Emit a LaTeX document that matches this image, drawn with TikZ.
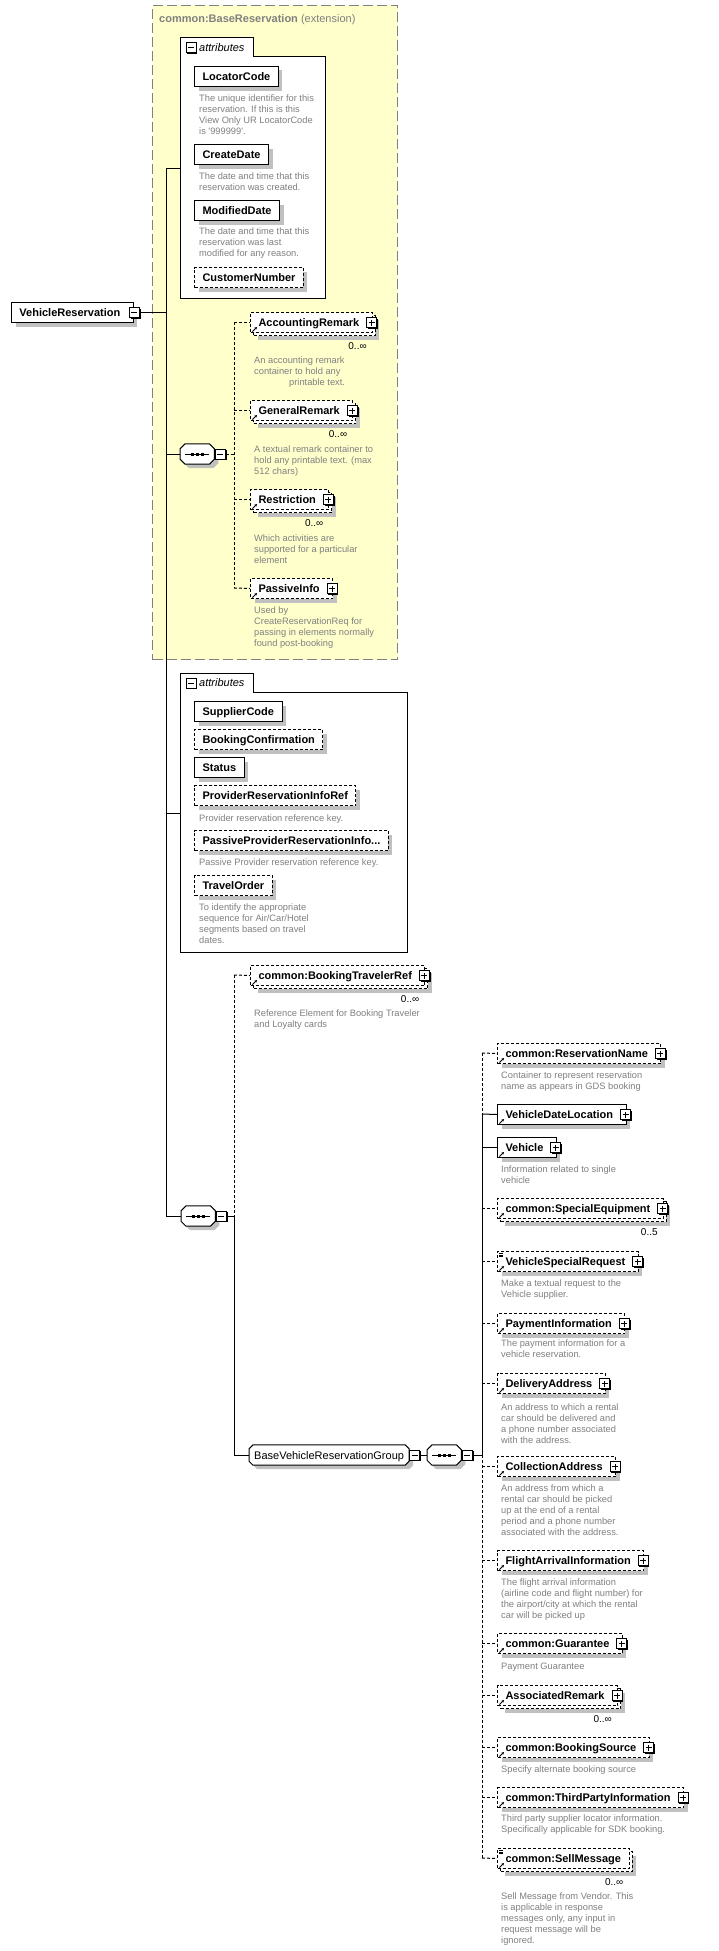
\documentclass[tikz,border=0pt]{standalone}
\usepackage{fontspec}
\setmainfont{Liberation Sans}
\usetikzlibrary{shadows,arrows.meta}
\pgfdeclarelayer{back}
\pgfdeclarelayer{bg}
\pgfsetlayers{back,bg,main}
\definecolor{ylw}{HTML}{FFFFCC}
\definecolor{dgray}{HTML}{808080}
\definecolor{shgray}{HTML}{C0C0C0}
\newcommand\octpath[2]{([shift={(#2pt,0pt)}]#1.north west) -- ([shift={(-#2pt,0pt)}]#1.north east) -- ([shift={(0pt,-#2pt)}]#1.north east) -- ([shift={(0pt,#2pt)}]#1.south east) -- ([shift={(-#2pt,0pt)}]#1.south east) -- ([shift={(#2pt,0pt)}]#1.south west) -- ([shift={(0pt,#2pt)}]#1.south west) -- ([shift={(0pt,-#2pt)}]#1.north west) -- cycle}
\newcommand\pmbox[3]{%
  \node[pm] (#1) at #2 {};
  \draw[line width=1pt] ([xshift=-3pt]#1.center) -- ([xshift=3pt]#1.center);
  \ifnum#3=1 \draw[line width=1pt] ([yshift=-3pt]#1.center) -- ([yshift=3pt]#1.center);\fi}
\newcommand\refarr[1]{\draw[line width=0.8pt,-{Stealth[length=2.6pt,width=2.6pt]}] ([shift={(2.5pt,1.5pt)}]#1.south west) -- ++(4.5pt,4.5pt);}
\newcommand\mixd[1]{\foreach \dd in {2.5,4,5.5}{\draw[line width=0.7pt] ([shift={(2pt,-\dd pt)}]#1.north west) -- ++(4pt,0pt);}}
\newcommand\seqdots[1]{\draw[line width=1pt] ([xshift=-12pt]#1.center) -- ([xshift=12pt]#1.center);
  \foreach \dx in {-5,0,5}{\fill ([shift={(\dx pt-1.5pt,-1.5pt)}]#1.center) rectangle ++(3pt,3pt);}}
\tikzset{
  shad/.style={drop shadow={shadow xshift=4pt, shadow yshift=-4pt, fill=shgray, opacity=1}},
  elem/.style={draw, fill=white, line width=1pt, anchor=north west, minimum height=20pt, inner ysep=0pt, inner xsep=8pt, text height=10pt, text depth=2pt, font=\fontsize{11}{13}\selectfont\bfseries},
  opt/.style={dash pattern=on 3pt off 2pt},
  con/.style={line width=1pt},
  desc/.style={anchor=north west, align=left, inner sep=0pt, text=dgray, font=\fontsize{9.3}{11}\selectfont, execute at begin node={\rule{0pt}{7.5pt}}},
  mult/.style={anchor=east, inner sep=0pt, font=\fontsize{10}{12}\selectfont},
  pm/.style={draw, fill=white, line width=1pt, minimum size=10pt, inner sep=0pt, drop shadow={shadow xshift=1.2pt, shadow yshift=-1.2pt, fill=black, opacity=1}},
  seqn/.style={minimum width=34pt, minimum height=20pt, inner sep=0pt, anchor=west},
  tabtxt/.style={anchor=west, inner sep=0pt, font=\fontsize{11}{13}\selectfont\itshape},
}
\begin{document}
\begin{tikzpicture}[x=1pt,y=-1pt]
\begin{pgfonlayer}{back}
\path[fill=white, use as bounding box] (0,0) rectangle (718,1951);
\node[draw=dgray, fill=ylw, line width=1pt, dash pattern=on 10pt off 4pt, anchor=north west, minimum width=245pt, minimum height=654pt, inner sep=0pt] (ext) at (152,5) {};
\end{pgfonlayer}
\node[anchor=base west, inner sep=0pt, text=dgray, font=\fontsize{11}{13}\selectfont] (extt) at (159,23) {\textbf{common:BaseReservation} (extension)};

% ---------- attributes A
\draw[fill=white, line width=1pt] (180,298) -- (180,38) -- (253,38) -- (253,57) -- (325,57) -- (325,298) -- cycle;
\pmbox{atApm}{(191,48)}{0}
\node[tabtxt] (atAt) at (199,48) {attributes};
\coordinate (atA) at (180,168);
\node[elem, shad] (locc) at (194,66) {LocatorCode};
\node[desc] (loccd) at (199,95) {The unique identifier for this\\reservation. If this is this\\View Only UR LocatorCode\\is \textquotesingle 999999\textquotesingle.};
\node[elem, shad] (crd) at (194,144) {CreateDate};
\node[desc] (crdd) at (199,173) {The date and time that this\\reservation was created.};
\node[elem, shad] (mdd) at (194,200) {ModifiedDate};
\node[desc] (mddd) at (199,228) {The date and time that this\\reservation was last\\modified for any reason.};
\node[elem, shad, opt] (cun) at (194,267) {CustomerNumber};

% ---------- root
\node[elem, shad] (vr) at (11,302) {VehicleReservation\hspace*{5pt}};
\pmbox{vrpm}{([xshift=0.5pt]vr.east)}{0}
\coordinate (tA1) at (166,168);
\coordinate (tA2) at (166,1216);
\draw[con] (tA1) -- (tA2);
\draw[con] (vrpm.east) -- (vrpm.east -| tA1);
\draw[con] (tA1) -- (atA);

% ---------- sequence 1
\node[seqn] (s1) at (180,454) {};
\node[seqn] (s2) at (181,1216) {};
\node[seqn] (s3) at (427,1455) {};
\node[minimum height=20pt, inner ysep=0pt, inner xsep=5pt, text height=10pt, text depth=2pt, anchor=west, font=\fontsize{11}{13}\selectfont] (grp) at (249,1455) {BaseVehicleReservationGroup};
\begin{pgfonlayer}{bg}
\foreach \nn/\cc in {s1/5,s2/5,s3/5,grp/4}{
  \fill[shgray, transform canvas={shift={(4pt,-4pt)}}] \octpath{\nn}{\cc};
  \draw[fill=white, line width=1pt] \octpath{\nn}{\cc};
}
\end{pgfonlayer}
\seqdots{s1}\seqdots{s2}\seqdots{s3}
\pmbox{s1pm}{([xshift=6pt]s1.east)}{0}
\draw[con] (tA1 |- s1.west) -- (s1.west);
\coordinate (tB1) at (234,322);
\coordinate (tB2) at (234,588);
\draw[con,opt] (s1pm.east) -- (s1pm.east -| tB1);
\draw[con,opt] (tB1) -- (tB2);

\node[elem, opt, shad] (accb) at (253,315) {AccountingRemark\hspace*{5pt}};
\node[elem, opt] (acc) at (250,312) {AccountingRemark\hspace*{5pt}};
\pmbox{accpm}{([xshift=-1pt]acc.east)}{1}
\refarr{acc}
\node[mult] (accm) at ([shift={(-6pt,-13.5pt)}]acc.south east) {0..∞};
\node[desc] (accd) at (254,357) {An accounting remark\\container to hold any\\\hspace*{35pt}printable text.};
\draw[con,opt] (tB1 |- acc.west) -- (acc.west);

\node[elem, opt, shad] (genb) at (253,403) {GeneralRemark\hspace*{5pt}};
\node[elem, opt] (gen) at (250,400) {GeneralRemark\hspace*{5pt}};
\pmbox{genpm}{([xshift=-1pt]gen.east)}{1}
\refarr{gen}
\node[mult] (genm) at ([shift={(-6pt,-13.5pt)}]gen.south east) {0..∞};
\node[desc] (gend) at (254,446) {A textual remark container to\\hold any printable text. (max\\512 chars)};
\draw[con,opt] (tB1 |- gen.west) -- (gen.west);

\node[elem, opt, shad] (resb) at (253,492) {Restriction\hspace*{5pt}};
\node[elem, opt] (res) at (250,489) {Restriction\hspace*{5pt}};
\pmbox{respm}{([xshift=-1pt]res.east)}{1}
\refarr{res}
\node[mult] (resm) at ([shift={(-6pt,-13.5pt)}]res.south east) {0..∞};
\node[desc] (resd) at (254,535) {Which activities are\\supported for a particular\\element};
\draw[con,opt] (tB1 |- res.west) -- (res.west);

\node[elem, opt, shad] (pas) at (250,578) {PassiveInfo\hspace*{5pt}};
\pmbox{paspm}{([xshift=-1pt]pas.east)}{1}
\refarr{pas}
\node[desc] (pasd) at (254,607) {Used by\\CreateReservationReq for\\passing in elements normally\\found post-booking};
\draw[con,opt] (tB2) -- (pas.west);

% ---------- attributes B
\draw[fill=white, line width=1pt] (180,952) -- (180,673) -- (253,673) -- (253,692) -- (407,692) -- (407,952) -- cycle;
\pmbox{atBpm}{(191,683)}{0}
\node[tabtxt] (atBt) at (199,683) {attributes};
\coordinate (atB) at (180,813);
\draw[con] (tA1 |- atB) -- (atB);
\node[elem, shad] (sup) at (194,701) {SupplierCode};
\node[elem, shad, opt] (bkc) at (194,729) {BookingConfirmation};
\node[elem, shad] (sts) at (194,757) {Status};
\node[elem, shad, opt] (pri) at (194,785) {ProviderReservationInfoRef};
\node[desc] (prid) at (199,814) {Provider reservation reference key.};
\node[elem, shad, opt] (ppr) at (194,830) {PassiveProviderReservationInfo...};
\node[desc] (pprd) at (199,858) {Passive Provider reservation reference key.};
\node[elem, shad, opt] (tvo) at (194,875) {TravelOrder};
\node[desc] (tvod) at (199,904) {To identify the appropriate\\sequence for Air/Car/Hotel\\segments based on travel\\dates.};

% ---------- sequence 2
\pmbox{s2pm}{([xshift=6pt]s2.east)}{0}
\draw[con] (tA2) -- (s2.west);
\coordinate (tC1) at (234,975);
\coordinate (tC2) at (234,1216);
\coordinate (tC3) at (234,1455);
\draw[con] (s2pm.east) -- (tC2);
\draw[con,opt] (tC1) -- (tC2);
\draw[con] (tC2) -- (tC3);
\node[elem, opt, shad] (btrb) at (253,968) {common:BookingTravelerRef\hspace*{5pt}};
\node[elem, opt] (btr) at (250,965) {common:BookingTravelerRef\hspace*{5pt}};
\pmbox{btrpm}{([xshift=-1pt]btr.east)}{1}
\refarr{btr}
\node[mult] (btrm) at ([shift={(-6pt,-13.5pt)}]btr.south east) {0..∞};
\node[desc] (btrd) at (254,1010) {Reference Element for Booking Traveler\\and Loyalty cards};
\draw[con,opt] (tC1) -- (btr.west);

% ---------- group
\pmbox{grppm}{([xshift=5.5pt]grp.east)}{0}
\draw[con] (tC3) -- (grp.west);
\draw[con] (grppm.east) -- (s3.west);
\pmbox{s3pm}{([xshift=6pt]s3.east)}{0}
\coordinate (tD1) at (482,1053);
\coordinate (tD2) at (482,1114);
\coordinate (tD3) at (482,1455);
\coordinate (tD4) at (482,1858);
\draw[con] (s3pm.east) -- (tD3);
\draw[con,opt] (tD1) -- (tD2);
\draw[con] (tD2) -- (tD3);
\draw[con,opt] (tD3) -- (tD4);

% ---------- right column
\node[elem, opt, shad] (rn) at (497,1043) {common:ReservationName\hspace*{5pt}};
\pmbox{rnpm}{([xshift=-1pt]rn.east)}{1}
\refarr{rn}
\node[desc] (rnd) at (501,1072) {Container to represent reservation\\name as appears in GDS booking};
\draw[con,opt] (tD1) -- (rn.west);

\node[elem, shad] (vdl) at (497,1104) {VehicleDateLocation\hspace*{5pt}};
\pmbox{vdlpm}{([xshift=-1pt]vdl.east)}{1}
\refarr{vdl}
\draw[con] (tD2) -- (vdl.west);

\node[elem, shad] (veh) at (497,1137) {Vehicle\hspace*{5pt}};
\pmbox{vehpm}{([xshift=-1pt]veh.east)}{1}
\refarr{veh}
\node[desc] (vehd) at (501,1166) {Information related to single\\vehicle};
\draw[con] (tD1 |- veh.west) -- (veh.west);

\node[elem, opt, shad] (speb) at (500,1201) {common:SpecialEquipment\hspace*{5pt}};
\node[elem, opt] (spe) at (497,1198) {common:SpecialEquipment\hspace*{5pt}};
\pmbox{spepm}{([xshift=-1pt]spe.east)}{1}
\refarr{spe}
\node[mult] (spem) at ([shift={(-6pt,-13.5pt)}]spe.south east) {0..5};
\draw[con,opt] (tD1 |- spe.west) -- (spe.west);

\node[elem, opt, shad] (vsr) at (497,1251) {VehicleSpecialRequest\hspace*{5pt}};
\pmbox{vsrpm}{([xshift=-1pt]vsr.east)}{1}
\refarr{vsr}\mixd{vsr}
\node[desc] (vsrd) at (501,1280) {Make a textual request to the\\Vehicle supplier.};
\draw[con,opt] (tD1 |- vsr.west) -- (vsr.west);

\node[elem, opt, shad] (pay) at (497,1313) {PaymentInformation\hspace*{5pt}};
\pmbox{paypm}{([xshift=-1pt]pay.east)}{1}
\refarr{pay}
\node[desc] (payd) at (501,1340) {The payment information for a\\vehicle reservation.};
\draw[con,opt] (tD1 |- pay.west) -- (pay.west);

\node[elem, opt, shad] (del) at (497,1373) {DeliveryAddress\hspace*{5pt}};
\pmbox{delpm}{([xshift=-1pt]del.east)}{1}
\refarr{del}
\node[desc] (deld) at (501,1404) {An address to which a rental\\car should be delivered and\\a phone number associated\\with the address.};
\draw[con,opt] (tD1 |- del.west) -- (del.west);

\node[elem, opt, shad] (col) at (497,1456) {CollectionAddress\hspace*{5pt}};
\pmbox{colpm}{([xshift=-1pt]col.east)}{1}
\refarr{col}
\node[desc] (cold) at (501,1485) {An address from which a\\rental car should be picked\\up at the end of a rental\\period and a phone number\\associated with the address.};
\draw[con,opt] (tD1 |- col.west) -- (col.west);

\node[elem, opt, shad] (fli) at (497,1550) {FlightArrivalInformation\hspace*{5pt}};
\pmbox{flipm}{([xshift=-1pt]fli.east)}{1}
\refarr{fli}
\node[desc] (flid) at (501,1579) {The flight arrival information\\(airline code and flight number) for\\the airport/city at which the rental\\car will be picked up};
\draw[con,opt] (tD1 |- fli.west) -- (fli.west);

\node[elem, opt, shad] (gua) at (497,1633) {common:Guarantee\hspace*{5pt}};
\pmbox{guapm}{([xshift=-1pt]gua.east)}{1}
\refarr{gua}
\node[desc] (guad) at (501,1662) {Payment Guarantee};
\draw[con,opt] (tD1 |- gua.west) -- (gua.west);

\node[elem, opt, shad] (asrb) at (500,1688) {AssociatedRemark\hspace*{5pt}};
\node[elem, opt] (asr) at (497,1685) {AssociatedRemark\hspace*{5pt}};
\pmbox{asrpm}{([xshift=-1pt]asr.east)}{1}
\refarr{asr}
\node[mult] (asrm) at ([shift={(-6pt,-13.5pt)}]asr.south east) {0..∞};
\draw[con,opt] (tD1 |- asr.west) -- (asr.west);

\node[elem, opt, shad] (bks) at (497,1737) {common:BookingSource\hspace*{5pt}};
\pmbox{bkspm}{([xshift=-1pt]bks.east)}{1}
\refarr{bks}
\node[desc] (bksd) at (501,1765) {Specify alternate booking source};
\draw[con,opt] (tD1 |- bks.west) -- (bks.west);

\node[elem, opt, shad] (tpi) at (497,1787) {common:ThirdPartyInformation\hspace*{5pt}};
\pmbox{tpipm}{([xshift=-1pt]tpi.east)}{1}
\refarr{tpi}
\node[desc] (tpid) at (501,1815) {Third party supplier locator information.\\Specifically applicable for SDK booking.};
\draw[con,opt] (tD1 |- tpi.west) -- (tpi.west);

\node[elem, opt, shad] (selb) at (500,1851) {common:SellMessage};
\node[elem, opt] (sel) at (497,1848) {common:SellMessage};
\refarr{sel}\mixd{sel}
\node[mult] (selm) at ([shift={(-6pt,-13.5pt)}]sel.south east) {0..∞};
\node[desc] (seld) at (501,1893) {Sell Message from Vendor. This\\is applicable in response\\messages only, any input in\\request message will be\\ignored.};
\draw[con,opt] (tD4) -- (sel.west);
\end{tikzpicture}
\end{document}
